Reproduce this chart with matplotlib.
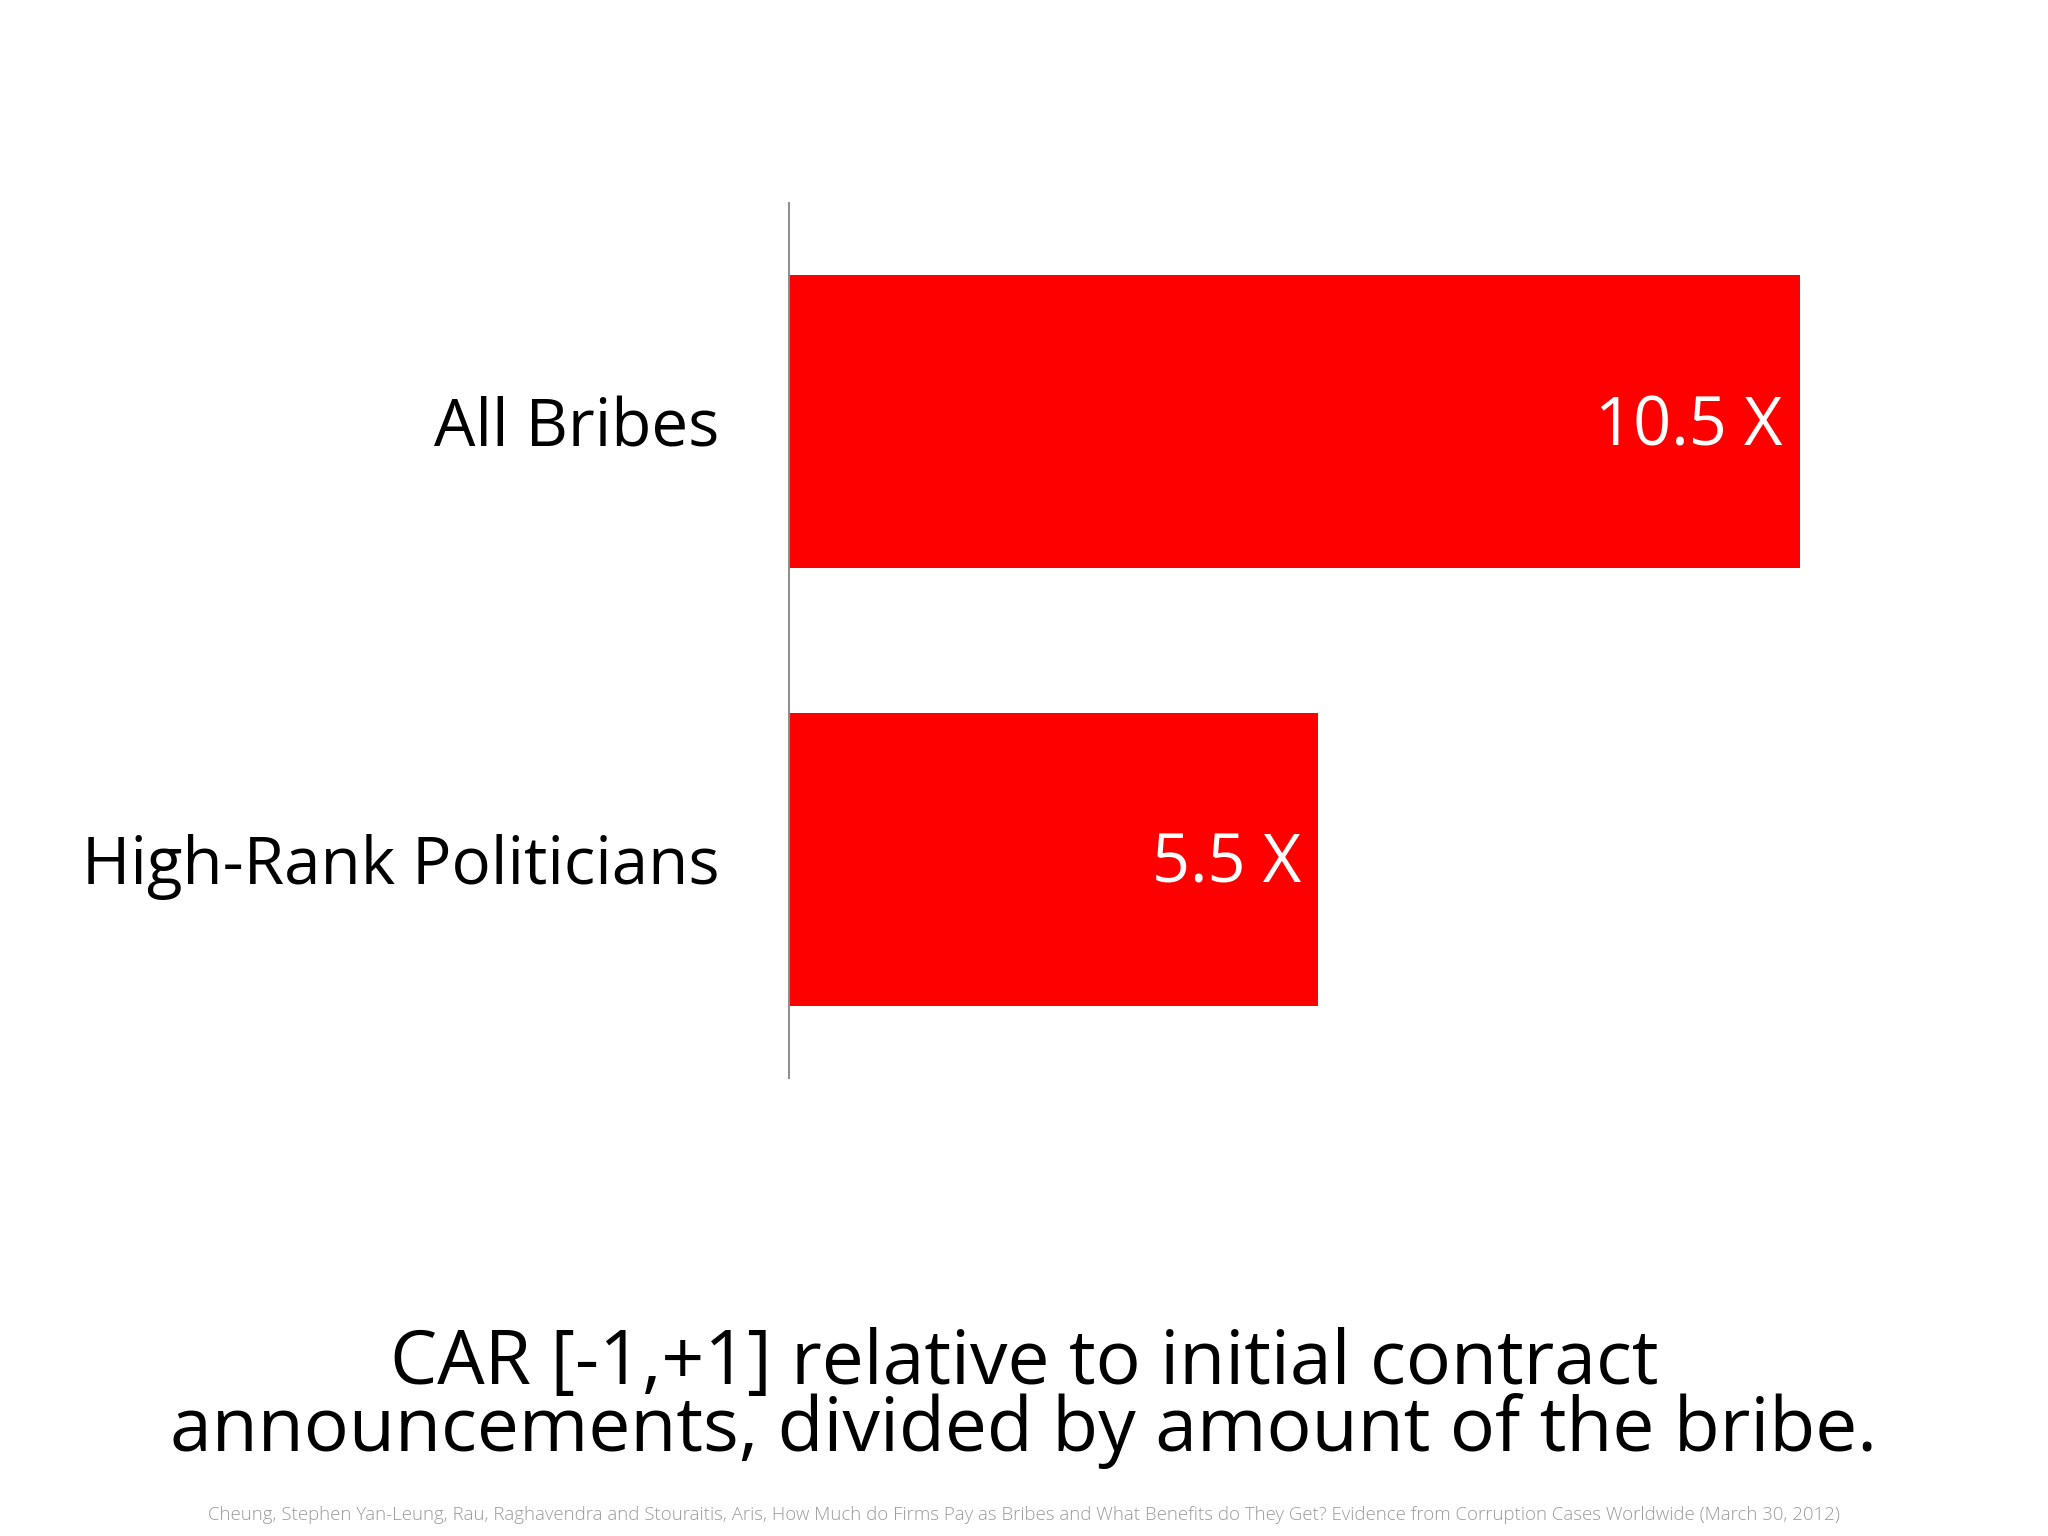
import matplotlib
matplotlib.use("Agg")
import matplotlib.pyplot as plt

categories = ["High-Rank Politicians", "All Bribes"]
values = [5.5, 10.5]
value_labels = ["5.5 X", "10.5 X"]
caption = "CAR [-1,+1] relative to initial contract\nannouncements, divided by amount of the bribe."
citation = ("Cheung, Stephen Yan-Leung, Rau, Raghavendra and Stouraitis, Aris, How Much do Firms Pay as Bribes "
            "and What Benefits do They Get? Evidence from Corruption Cases Worldwide (March 30, 2012)")

plt.rcParams['font.family'] = ['Open Sans', 'DejaVu Sans']

W, H = 2048, 1536
dpi = 200
fig = plt.figure(figsize=(W / dpi, H / dpi), dpi=dpi)
fig.patch.set_facecolor("white")

left = 789 / W
right = 1944 / W
bottom = 1 - 1078 / H
top = 1 - 203 / H
ax = fig.add_axes([left, bottom, right - left, top - bottom])

ypos = list(range(len(categories)))
ax.barh(ypos, values, height=0.67, color="#FF0000", edgecolor="none")
ax.set_xlim(0, 12)
ax.set_ylim(-0.5, 1.5)

for y, v, lab in zip(ypos, values, value_labels):
    ax.annotate(lab, xy=(v, y), xytext=(-6, -2), textcoords="offset points",
                ha="right", va="center", color="white", fontsize=24)

ax.set_yticks(ypos)
ax.set_yticklabels(categories, fontsize=23.6, color="black")
ax.tick_params(axis="y", length=0, pad=25)
ax.set_xticks([])
for s in ["top", "right", "bottom"]:
    ax.spines[s].set_visible(False)
ax.spines["left"].set_color("#8c8c8c")
ax.spines["left"].set_linewidth(0.7)

fig.text(0.5, 1 - 1398 / H, caption, ha="center", va="center", fontsize=27,
         color="black", linespacing=0.85)
fig.text(0.5, 1 - 1515 / H, citation, ha="center", va="center", fontsize=6.7,
         color="#9a9a9a", fontweight="light")

fig.savefig("out.png", dpi=dpi, facecolor="white")
